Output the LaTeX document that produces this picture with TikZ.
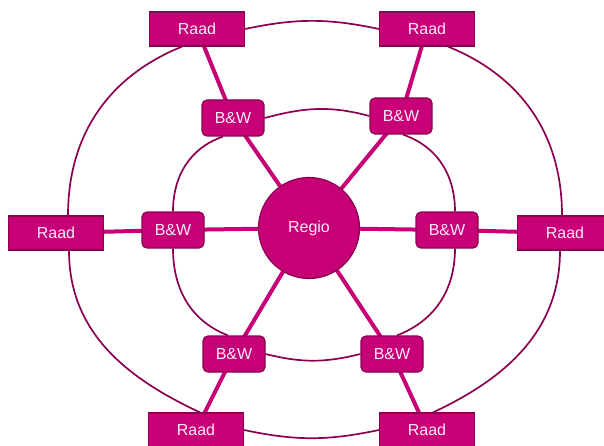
\documentclass[tikz,border=0pt]{standalone}
\usepackage{fontspec}
\setmainfont{Liberation Sans}
\usetikzlibrary{backgrounds}
\definecolor{mag}{RGB}{200,0,120}
\definecolor{magdark}{RGB}{140,0,80}
\definecolor{txt}{RGB}{255,235,248}
\tikzset{
  raadbox/.style={draw=magdark,line width=1.2pt,fill=mag,text=txt,minimum width=95pt,minimum height=34pt,inner sep=0pt,font=\fontsize{16}{19}\selectfont},
  bwbox/.style={draw=magdark,line width=1.2pt,fill=mag,text=txt,rounded corners=5pt,minimum width=62pt,minimum height=36pt,inner sep=0pt,font=\fontsize{16}{19}\selectfont},
  regiobox/.style={circle,draw=magdark,line width=1.2pt,fill=mag,text=txt,minimum size=101pt,inner sep=0pt,font=\fontsize{16}{19}\selectfont},
  spoke/.style={draw=mag,line width=4pt},
  ring/.style={draw=magdark,line width=1.7pt}
}
\begin{document}
\begin{tikzpicture}[x=1pt,y=1pt]
\useasboundingbox (0,0) rectangle (604,445);
% nodes
\node[regiobox] (regio) at (309,217) {Regio};
\node[bwbox] (bwtl) at (233,327) {B\&W};
\node[bwbox] (bwtr) at (401,329) {B\&W};
\node[bwbox] (bwl) at (173,215) {B\&W};
\node[bwbox] (bwr) at (447,215) {B\&W};
\node[bwbox] (bwbl) at (234,91) {B\&W};
\node[bwbox] (bwbr) at (392,91) {B\&W};
\node[raadbox] (rtl) at (197,416) {Raad};
\node[raadbox] (rtr) at (427,416) {Raad};
\node[raadbox] (rl) at (56,212) {Raad};
\node[raadbox] (rr) at (565,212) {Raad};
\node[raadbox] (rbl) at (196,15) {Raad};
\node[raadbox] (rbr) at (427,15) {Raad};
\begin{scope}[on background layer]
% spokes
\draw[spoke] (rtl.center) -- (bwtl.center) -- (regio.center);
\draw[spoke] (rtr.center) -- (bwtr.center) -- (regio.center);
\draw[spoke] (rl.center) -- (bwl.center) -- (regio.center);
\draw[spoke] (rr.center) -- (bwr.center) -- (regio.center);
\draw[spoke] (rbl.center) -- (bwbl.center) -- (regio.center);
\draw[spoke] (rbr.center) -- (bwbr.center) -- (regio.center);
% outer ring
\draw[ring] (rtl.east) to[out=12,in=168] (rtr.west);
\draw[ring] ([xshift=21pt]rtr.south) to[out=-22,in=90] ([xshift=-3pt]rr.north);
\draw[ring] ([xshift=-5pt]rr.south) to[out=-90,in=25] ([xshift=6pt]rbr.north);
\draw[ring] (rbl.east) to[out=-12,in=192] (rbr.west);
\draw[ring] ([xshift=13pt]rl.south) to[out=-90,in=155] ([xshift=4pt]rbl.north);
\draw[ring] ([xshift=12pt]rl.north) to[out=90,in=-158] ([xshift=-15pt]rtl.south);
% inner ring
\draw[ring] (bwtl.east) to[out=15,in=165] (bwtr.west);
\draw[ring] ([xshift=2pt]bwtr.south) to[out=-19,in=90] ([xshift=8pt]bwr.north);
\draw[ring] ([xshift=8pt]bwr.south) to[out=-90,in=21] ([xshift=5pt]bwbr.north);
\draw[ring] (bwbl.east) to[out=-14,in=194] (bwbr.west);
\draw[ring] (bwl.south) to[out=-90,in=159] ([xshift=-6pt]bwbl.north);
\draw[ring] (bwl.north) to[out=90,in=-161] ([xshift=-10pt]bwtl.south);
\end{scope}
\end{tikzpicture}
\end{document}
